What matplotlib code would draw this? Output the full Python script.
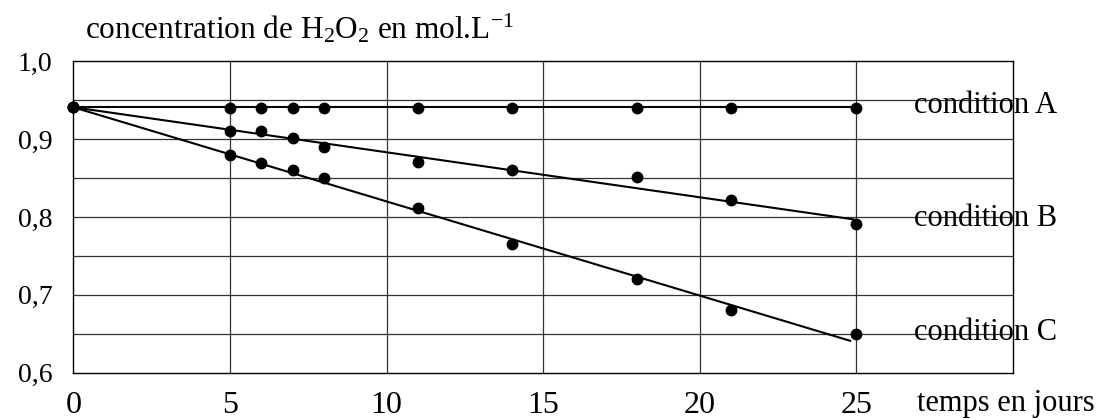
import matplotlib
matplotlib.use("Agg")
import matplotlib.pyplot as plt

plt.rcParams['font.family'] = ['Liberation Serif', 'DejaVu Serif']
plt.rcParams['mathtext.fontset'] = 'custom'
plt.rcParams['mathtext.rm'] = 'Liberation Serif'
plt.rcParams['mathtext.it'] = 'Liberation Serif:italic'

# measured points (days, mol/L)
days = [0, 5, 6, 7, 8, 11, 14, 18, 21, 25]
conc_A = [0.941, 0.940, 0.940, 0.940, 0.940, 0.940, 0.940, 0.940, 0.940, 0.940]
conc_B = [0.941, 0.911, 0.911, 0.901, 0.890, 0.871, 0.861, 0.851, 0.822, 0.791]
conc_C = [0.941, 0.880, 0.870, 0.860, 0.850, 0.811, 0.765, 0.721, 0.680, 0.650]

# trend lines drawn through the points
line_A_x = [0, 25]
line_A_y = [0.941, 0.941]
line_B_x = [0, 24.9]
line_B_y = [0.941, 0.797]
line_C_x = [0, 24.8]
line_C_y = [0.941, 0.641]

labels = ["condition A", "condition B", "condition C"]
label_y = [0.933, 0.788, 0.642]

xticks = [0, 5, 10, 15, 20, 25]
yticks = [0.6, 0.7, 0.8, 0.9, 1.0]
ytick_labels = ["0,6", "0,7", "0,8", "0,9", "1,0"]

fig = plt.figure(figsize=(11.04, 4.2), dpi=100)
ax = fig.add_axes([0.0664, 0.1126, 0.8512, 0.7414])

ax.set_xlim(0, 30)
ax.set_ylim(0.6, 1.0)

# grid
for x in [5, 10, 15, 20, 25]:
    ax.axvline(x, color='#333333', lw=0.9, zorder=1)
for y in [0.65, 0.7, 0.75, 0.8, 0.85, 0.9, 0.95]:
    ax.axhline(y, color='#333333', lw=0.9, zorder=1)

for lx, ly in [(line_A_x, line_A_y), (line_B_x, line_B_y), (line_C_x, line_C_y)]:
    ax.plot(lx, ly, color='black', lw=1.5, zorder=3)
for c in [conc_A, conc_B, conc_C]:
    ax.plot(days, c, 'o', color='black', ms=7.5, zorder=4, clip_on=False)

for lab, ly in zip(labels, label_y):
    ax.text(26.85, ly, lab, fontsize=22, va='baseline', ha='left', zorder=5)

ax.set_xticks(xticks)
ax.set_xticklabels([str(t) for t in xticks])
ax.set_yticks(yticks)
ax.set_yticklabels(ytick_labels)
ax.tick_params(length=0)
ax.tick_params(axis='y', labelsize=20, pad=15)
ax.tick_params(axis='x', labelsize=23, pad=13)
for s in ax.spines.values():
    s.set_color('black')
    s.set_linewidth(1.0)

fig.text(85 / 1104, 1 - 38.5 / 420, r"concentration de H$_2$O$_2$ en mol.L$^{-1}$",
         fontsize=22.5, va='baseline', ha='left')
fig.text(917 / 1104, 1 - 411 / 420, "temps en jours", fontsize=22, va='baseline', ha='left')

fig.savefig("out.png", dpi=100)
